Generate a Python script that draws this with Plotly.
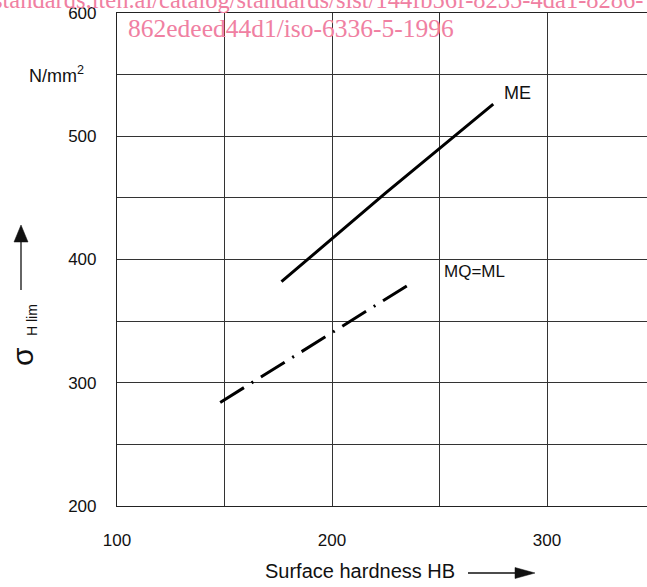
import plotly.graph_objects as go

# ---- data ----
me_hb = [176.5, 225, 275]
me_sigma = [382, 454, 526]
mq_hb = [148, 237]
mq_sigma = [284, 381]

x_tickvals = [100, 150, 200, 250, 300, 350]
x_ticktext = ["100", " ", "200", " ", "300", " "]
y_tickvals = [200, 250, 300, 350, 400, 450, 500, 550, 600]
y_ticktext = ["200", " ", "300", " ", "400", " ", "500", " ", "600"]

W_FIG, H_FIG = 647, 587
L, T, R, B = 117, 13, 0, 81
PW, PH = W_FIG - L - R, H_FIG - T - B


def px(x):  # page pixel -> paper
    return (x - L) / PW


def py(y):
    return (T + PH - y) / PH


FONT = "Liberation Sans"
INK = "#111111"
PINK = "rgb(240,128,162)"

fig = go.Figure()
fig.add_trace(go.Scatter(x=me_hb, y=me_sigma, mode="lines",
                         line=dict(color="black", width=3), showlegend=False))
fig.add_trace(go.Scatter(x=mq_hb, y=mq_sigma, mode="lines",
                         line=dict(color="black", width=3, dash="28px,9px,2px,9px"),
                         showlegend=False))

fig.update_layout(
    width=W_FIG, height=H_FIG,
    margin=dict(l=L, r=R, t=T, b=B, autoexpand=False),
    paper_bgcolor="white", plot_bgcolor="white",
    font=dict(family=FONT, color=INK, size=17),
    xaxis=dict(range=[100, 100 + PW / 2.15], tickvals=x_tickvals, ticktext=x_ticktext,
               showgrid=True, gridcolor="#333333", gridwidth=1,
               showline=True, linecolor="#222222", linewidth=1.2, mirror=True,
               ticks="outside", ticklen=18, tickcolor="rgba(0,0,0,0)",
               zeroline=False, tickfont=dict(size=17)),
    yaxis=dict(range=[200, 600], tickvals=y_tickvals, ticktext=y_ticktext,
               showgrid=True, gridcolor="#333333", gridwidth=1,
               showline=True, linecolor="#222222", linewidth=1.2,
               ticks="outside", ticklen=16, tickcolor="rgba(0,0,0,0)",
               zeroline=False, tickfont=dict(size=17)),
)

ann = []
# curve labels
ann.append(dict(x=279, y=535.5, xref="x", yref="y", text="ME", showarrow=False,
                xanchor="left", yanchor="middle", font=dict(size=18)))
ann.append(dict(x=251.2, y=390.4, xref="x", yref="y", text="MQ=ML", showarrow=False,
                xanchor="left", yanchor="middle", font=dict(size=17)))
# unit
ann.append(dict(x=px(56), y=py(75), xref="paper", yref="paper",
                text="N/mm<sup>2</sup>", showarrow=False,
                xanchor="center", yanchor="middle", font=dict(size=18)))
# y title
ann.append(dict(x=px(22), y=py(357), xref="paper", yref="paper", text="σ",
                showarrow=False, textangle=-90, xanchor="center", yanchor="middle",
                font=dict(size=30, family="Liberation Sans")))
ann.append(dict(x=px(32), y=py(320), xref="paper", yref="paper", text="H lim",
                showarrow=False, textangle=-90, xanchor="center", yanchor="middle",
                font=dict(size=14)))
# x title
ann.append(dict(x=px(263), y=py(571), xref="paper", yref="paper",
                text="Surface hardness HB", showarrow=False,
                xanchor="left", yanchor="middle", font=dict(size=20)))
# watermark
ann.append(dict(x=px(645), y=py(0), xref="paper", yref="paper",
                text="standards.iteh.ai/catalog/standards/sist/144fb56f-8235-4da1-8286-",
                showarrow=False, xanchor="right", yanchor="middle",
                font=dict(size=24.5, family="Liberation Serif", color=PINK)))
ann.append(dict(x=px(126), y=py(28), xref="paper", yref="paper",
                text="862edeed44d1/iso-6336-5-1996",
                showarrow=False, xanchor="left", yanchor="middle",
                font=dict(size=25.5, family="Liberation Serif", color=PINK)))
fig.update_layout(annotations=ann)

shapes = []
# y arrow
shapes.append(dict(type="line", xref="paper", yref="paper",
                   x0=px(21), x1=px(21), y0=py(290), y1=py(240),
                   line=dict(color=INK, width=1.3)))
shapes.append(dict(type="path", xref="paper", yref="paper",
                   path=f"M {px(14)},{py(242)} L {px(28)},{py(242)} L {px(21)},{py(225)} Z",
                   fillcolor=INK, line=dict(color=INK, width=0.5)))
# x arrow
shapes.append(dict(type="line", xref="paper", yref="paper",
                   x0=px(468), x1=px(518), y0=py(573), y1=py(573),
                   line=dict(color=INK, width=1.3)))
shapes.append(dict(type="path", xref="paper", yref="paper",
                   path=f"M {px(515)},{py(567.5)} L {px(515)},{py(578.5)} L {px(535)},{py(573)} Z",
                   fillcolor=INK, line=dict(color=INK, width=0.5)))
fig.update_layout(shapes=shapes)

fig.write_html("out.html", config={"displayModeBar": False},
               post_script="document.body.style.margin='0';document.body.style.overflow='hidden';")
